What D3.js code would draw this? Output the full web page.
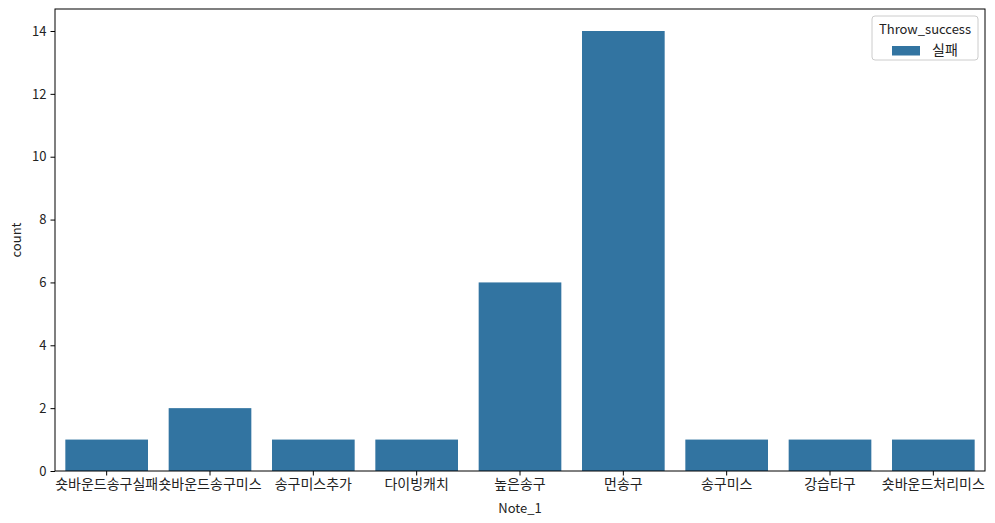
<!DOCTYPE html>
<html>
<head>
<meta charset="utf-8">
<script src="https://cdn.jsdelivr.net/npm/d3@7"></script>
<style>
  body { margin: 0; background: #fff; }
  text { font-family: "Noto Sans CJK KR", "Noto Sans", sans-serif; fill: #222; }
</style>
</head>
<body>
<script>
// Data
const categories = ["숏바운드송구실패", "숏바운드송구미스", "송구미스추가", "다이빙캐치", "높은송구", "먼송구", "송구미스", "강습타구", "숏바운드처리미스"];
const counts = [1, 2, 1, 1, 6, 14, 1, 1, 1];
const yTicks = [0, 2, 4, 6, 8, 10, 12, 14];
const seriesName = "실패";
const legendTitle = "Throw_success";

const W = 995, H = 523;
const margin = { top: 9, right: 10, bottom: 52, left: 55 };
const width = W - margin.left - margin.right;
const height = H - margin.top - margin.bottom;
const barColor = "#3274a1";

const svg = d3.select("body").append("svg")
  .attr("width", W)
  .attr("height", H);

const g = svg.append("g")
  .attr("transform", "translate(" + margin.left + "," + margin.top + ")");

const x = d3.scaleBand().domain(categories).range([0, width]).paddingInner(0.2).paddingOuter(0.1);
const y = d3.scaleLinear().domain([0, 14.7]).range([height, 0]);

// Bars
g.selectAll(".bar")
  .data(categories)
  .enter().append("rect")
  .attr("class", "bar")
  .attr("x", d => x(d))
  .attr("width", x.bandwidth())
  .attr("y", (d, i) => y(counts[i]))
  .attr("height", (d, i) => y(0) - y(counts[i]))
  .attr("fill", barColor);

// Axes
const xAxis = g.append("g")
  .attr("transform", "translate(0," + height + ")")
  .call(d3.axisBottom(x).tickSize(4.5).tickPadding(4));
const yAxis = g.append("g")
  .call(d3.axisLeft(y).tickValues(yTicks).tickSize(4.5).tickPadding(4));

[xAxis, yAxis].forEach(a => {
  a.select(".domain").remove();
  a.selectAll("line").attr("stroke", "#000").attr("stroke-width", 1);
  a.selectAll("text").attr("fill", "#222");
});
xAxis.selectAll("text").style("font-size", "14px");
yAxis.selectAll("text").style("font-size", "13px");

// Frame
g.append("rect")
  .attr("width", width)
  .attr("height", height)
  .attr("fill", "none")
  .attr("stroke", "#000")
  .attr("stroke-width", 1);

// Axis labels
svg.append("text")
  .attr("x", margin.left + width / 2)
  .attr("y", H - 10)
  .attr("text-anchor", "middle")
  .style("font-size", "13px")
  .text("Note_1");

svg.append("text")
  .attr("transform", "translate(21," + (margin.top + height / 2) + ") rotate(-90)")
  .attr("text-anchor", "middle")
  .style("font-size", "13px")
  .text("count");

// Legend
const lg = svg.append("g").attr("transform", "translate(872,16)");
lg.append("rect")
  .attr("width", 106)
  .attr("height", 44)
  .attr("rx", 3)
  .attr("fill", "#fff")
  .attr("fill-opacity", 0.8)
  .attr("stroke", "#ccc");
lg.append("text")
  .attr("x", 53)
  .attr("y", 18)
  .attr("text-anchor", "middle")
  .style("font-size", "13px")
  .text(legendTitle);
lg.append("rect")
  .attr("x", 20)
  .attr("y", 30)
  .attr("width", 28)
  .attr("height", 9.5)
  .attr("fill", barColor);
lg.append("text")
  .attr("x", 60)
  .attr("y", 39)
  .style("font-size", "14px")
  .text(seriesName);
</script>
</body>
</html>
